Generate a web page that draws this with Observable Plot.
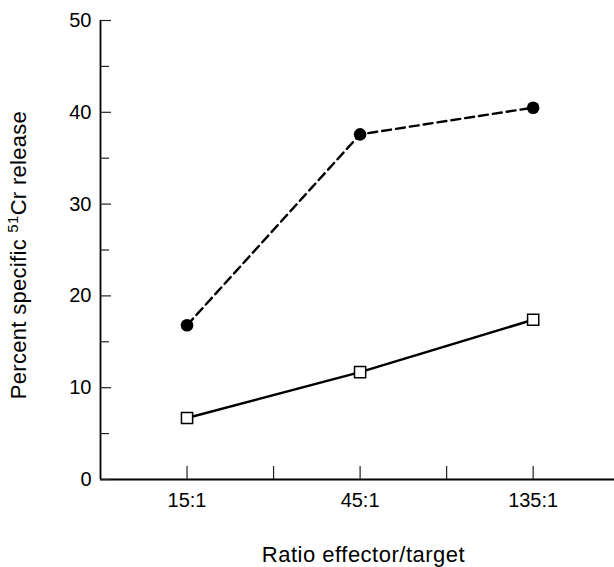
<!DOCTYPE html>
<html><head><meta charset="utf-8">
<script src="https://cdn.jsdelivr.net/npm/d3@7"></script>
<script src="https://cdn.jsdelivr.net/npm/@observablehq/plot@0.6"></script>
<style>
body{margin:0;background:#fff;}
#chart svg{font-family:"Liberation Sans",Arial,Helvetica,sans-serif;}
</style>
</head><body><div id="chart"></div>
<script>
const ratios = ["15:1", "45:1", "135:1"];
const filledCircleSeries = [16.8, 37.6, 40.5];   // dashed line, filled circles
const openSquareSeries = [6.7, 11.7, 17.4];      // solid line, open squares
const yMajorTicks = [0, 10, 20, 30, 40, 50];
const yMinorTicks = [5, 15, 25, 35, 45];
const xTickPositions = [0, 0.5, 1, 1.5, 2];
const xLabelPositions = [0, 1, 2];
const xTitle = "Ratio effector/target";
const yTitle = "Percent specific 51Cr release";

const circleData = ratios.map((r, i) => ({i, v: filledCircleSeries[i]}));
const squareData = ratios.map((r, i) => ({i, v: openSquareSeries[i]}));

const W = 614, H = 567;
const mL = 100, mR = 0, mT = 20, mB = 88;
const xDomain = [-0.5, 2.47];
const frameW = W - mL - mR, frameH = H - mT - mB;

const chart = Plot.plot({
  width: W, height: H,
  marginLeft: mL, marginRight: mR, marginTop: mT, marginBottom: mB,
  style: {background: "#fff", color: "#000", fontSize: "20px", fontFamily: "Liberation Sans, Arial, sans-serif"},
  x: {type: "linear", domain: xDomain},
  y: {domain: [0, 50]},
  marks: [
    Plot.ruleX([xDomain[0]], {stroke: "#000", strokeWidth: 1.8}),
    Plot.ruleY([0], {stroke: "#000", strokeWidth: 1.8}),
    Plot.tickY(yMajorTicks, {y: d => d, stroke: "#222", strokeWidth: 1.2, insetRight: frameW - 11}),
    Plot.tickY(yMinorTicks, {y: d => d, stroke: "#222", strokeWidth: 1.2, insetRight: frameW - 9}),
    Plot.tickX(xTickPositions, {x: d => d, stroke: "#222", strokeWidth: 1.2, insetTop: frameH - 13}),
    Plot.axisY(yMajorTicks, {tickSize: 0, tickPadding: 9, fontSize: 20, label: null}),
    Plot.axisX(xLabelPositions, {tickSize: 0, tickPadding: 13, fontSize: 20, label: null, tickFormat: i => ratios[i]}),
    Plot.line(circleData, {x: "i", y: "v", stroke: "#000", strokeWidth: 2.4, strokeDasharray: "9,5"}),
    Plot.line(squareData, {x: "i", y: "v", stroke: "#000", strokeWidth: 2.4}),
    Plot.dot(circleData, {x: "i", y: "v", r: 6.3, fill: "#000", stroke: "none"}),
    Plot.dot(squareData, {x: "i", y: "v", symbol: "square", r: 6.3, fill: "#fff", stroke: "#000", strokeWidth: 1.5}),
    Plot.text([xTitle], {frameAnchor: "bottom", textAnchor: "middle", dx: 6, dy: 82, fontSize: 22, fill: "#000", className: "xtitle"}),
    Plot.text([yTitle], {frameAnchor: "left", textAnchor: "middle", rotate: -90, dx: -82, dy: 5, fontSize: 22, fill: "#000", className: "ytitle"})
  ]
});
document.getElementById("chart").appendChild(chart);

d3.select(chart).selectAll(".xtitle text").style("letter-spacing", "0.5px");
// superscript the isotope mass number in the y title
d3.select(chart).selectAll("text").filter(function() { return this.textContent === yTitle; }).each(function() {
  const t = d3.select(this);
  t.style("letter-spacing", "0.3px");
  t.text(null);
  t.append("tspan").text("Percent specific ");
  t.append("tspan").attr("baseline-shift", "super").attr("font-size", "15px").text("51");
  t.append("tspan").text("Cr release");
});
</script>
</body></html>
